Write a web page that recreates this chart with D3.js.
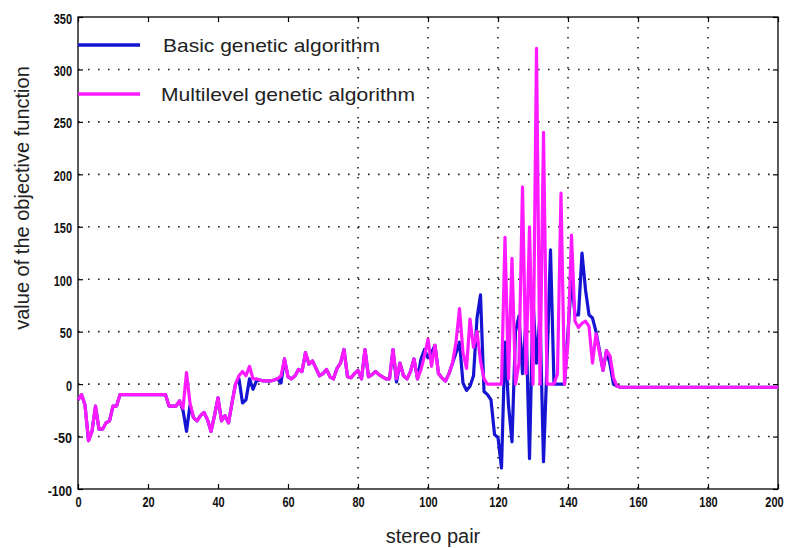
<!DOCTYPE html>
<html>
<head>
<meta charset="utf-8">
<script src="https://cdn.jsdelivr.net/npm/d3@7"></script>
<style>
  body { margin: 0; background: #fff; }
  svg { display: block; }
</style>
</head>
<body>
<div id="chart"></div>
<script>
// values, one per stereo pair 0..200
const multilevelGA = [
  -15, -10, -20, -54, -45, -21, -43, -43, -37, -35,
  -21, -21, -10, -10, -10, -10, -10, -10, -10, -10,
  -10, -10, -10, -10, -10, -10, -21, -21, -21, -16,
  -23, 11, -18, -32, -35, -30, -27, -34, -45, -30,
  -13, -35, -30, -37, -18, 0, 8, 12, 8, 17,
  5, 5, 4, 3, 3, 3, 4, 5, 8, 24,
  7, 5, 8, 14, 12, 30, 19, 22, 15, 8,
  10, 14, 7, 5, 15, 20, 33, 7, 6, 10,
  13, 5, 33, 7, 9, 12, 9, 7, 5, 5,
  33, 5, 20, 8, 5, 12, 24, 5, 14, 27,
  43, 17, 37, 10, 6, 3, 10, 20, 40, 72,
  30, 15, 62, 35, 50, 22, 5, 0, 0, 0,
  0, 0, 140, 5, 120, 0, 20, 188, 10, 150,
  0, 320, 0, 240, 0, 0, 0, 10, 182, 0,
  40, 142, 60, 54, 58, 60, 55, 20, 48, 30,
  13, 32, 27, 6, -2, -3, -3, -3, -3, -3,
  -3, -3, -3, -3, -3, -3, -3, -3, -3, -3,
  -3, -3, -3, -3, -3, -3, -3, -3, -3, -3,
  -3, -3, -3, -3, -3, -3, -3, -3, -3, -3,
  -3, -3, -3, -3, -3, -3, -3, -3, -3, -3,
  -3
];

const basicGA = [
  -15, -10, -20, -54, -45, -21, -43, -43, -37, -35,
  -21, -21, -10, -10, -10, -10, -10, -10, -10, -10,
  -10, -10, -10, -10, -10, -10, -21, -21, -21, -16,
  -25, -45, -20, -32, -35, -30, -27, -34, -45, -30,
  -13, -35, -30, -37, -18, 0, 5, -18, -15, 5,
  -5, 3, 4, 3, 3, 3, 4, 5, 1, 24,
  7, 5, 8, 14, 12, 30, 19, 22, 15, 8,
  10, 14, 7, 5, 15, 20, 33, 7, 6, 10,
  13, 5, 33, 7, 9, 12, 9, 7, 5, 5,
  33, 2, 20, 8, 5, 12, 24, 5, 24, 33,
  25, 30, 37, 10, 6, 3, 10, 20, 30, 40,
  1, -6, -2, 8, 63, 85, -7, -10, -15, -48,
  -51, -80, 40, -20, -55, 50, 65, 10, 60, -71,
  80, 20, 66, -74, 20, 128, 0, 0, 0, 0,
  50, 100, 66, 66, 125, 90, 66, 63, 50, 32,
  13, 32, 19, 0, -2, -3, -3, -3, -3, -3,
  -3, -3, -3, -3, -3, -3, -3, -3, -3, -3,
  -3, -3, -3, -3, -3, -3, -3, -3, -3, -3,
  -3, -3, -3, -3, -3, -3, -3, -3, -3, -3,
  -3, -3, -3, -3, -3, -3, -3, -3, -3, -3,
  -3
];

const xTicks = [0, 20, 40, 60, 80, 100, 120, 140, 160, 180, 200];
const yTicks = [-100, -50, 0, 50, 100, 150, 200, 250, 300, 350];
// the scan only shows vertical grid lines from 80 on
const xGrid = [80, 100, 120, 140, 160, 180];

const series = [
  { name: "Basic genetic algorithm", values: basicGA, color: "#1414d2", textW: 217 },
  { name: "Multilevel genetic algorithm", values: multilevelGA, color: "#ff1aff", textW: 254 }
];

const width = 789, height = 548;
const plotLeft = 78, plotRight = 778, plotTop = 17, plotBottom = 489;

const svg = d3.select("#chart").append("svg")
  .attr("width", width)
  .attr("height", height);

const x = d3.scaleLinear().domain([0, 200]).range([plotLeft, plotRight]);
const y = d3.scaleLinear().domain([-100, 350]).range([plotBottom, plotTop]);

const tickFont = "'Liberation Sans', Arial, sans-serif";
const labelFont = "'Liberation Sans', Arial, sans-serif";

// dotted grid
svg.selectAll(".hgrid")
  .data(yTicks.filter(d => d > -100 && d < 350))
  .enter()
  .append("line")
  .attr("class", "hgrid")
  .attr("x1", plotLeft)
  .attr("x2", plotRight)
  .attr("y1", d => y(d))
  .attr("y2", d => y(d))
  .attr("stroke", "#222")
  .attr("stroke-width", 1.6)
  .attr("stroke-dasharray", "1.6,8.4");

svg.selectAll(".vgrid")
  .data(xGrid)
  .enter()
  .append("line")
  .attr("class", "vgrid")
  .attr("x1", d => x(d))
  .attr("x2", d => x(d))
  .attr("y1", plotTop)
  .attr("y2", plotBottom)
  .attr("stroke", "#222")
  .attr("stroke-width", 1.6)
  .attr("stroke-dasharray", "1.6,8.4");

// axes with inward ticks, labels outside (plain hyphen for negatives)
const fmt = d => String(d);
const xAxis = d3.axisBottom(x).tickValues(xTicks).tickSize(-5).tickPadding(7).tickFormat(fmt);
const yAxis = d3.axisLeft(y).tickValues(yTicks).tickSize(-5).tickPadding(6).tickFormat(fmt);

const gx = svg.append("g").attr("transform", `translate(0,${plotBottom})`).call(xAxis);
const gy = svg.append("g").attr("transform", `translate(${plotLeft},0)`).call(yAxis);
svg.append("g").attr("transform", `translate(0,${plotTop})`)
  .call(d3.axisTop(x).tickValues(xTicks).tickSize(-5).tickFormat(""));
svg.append("g").attr("transform", `translate(${plotRight},0)`)
  .call(d3.axisRight(y).tickValues(yTicks).tickSize(-5).tickFormat(""));

svg.selectAll(".domain").remove();
svg.selectAll(".tick line").attr("stroke", "#000").attr("stroke-width", 1.2);

// narrow bold digits like the scan
[gx, gy].forEach(g => g.selectAll("text")
  .attr("font-family", tickFont)
  .attr("font-weight", "bold")
  .attr("font-size", 15)
  .attr("fill", "#111")
  .attr("lengthAdjust", "spacingAndGlyphs")
  .attr("textLength", d => {
    const s = String(d);
    return s.replace("-", "").length * 6.1 + (s.startsWith("-") ? 6 : 0);
  }));
gy.selectAll("text").attr("dy", "0.4em");
// the last label sits against the right edge of the scan
gx.selectAll("text").filter(d => d === 200).attr("dx", -4);

// frame
svg.append("rect")
  .attr("x", plotLeft)
  .attr("y", plotTop)
  .attr("width", plotRight - plotLeft)
  .attr("height", plotBottom - plotTop)
  .attr("fill", "none")
  .attr("stroke", "#000")
  .attr("stroke-width", 1.3);

// series lines
const line = d3.line()
  .x((d, i) => x(i))
  .y(d => y(d));

svg.selectAll(".series")
  .data(series)
  .enter()
  .append("path")
  .attr("class", "series")
  .attr("d", d => line(d.values))
  .attr("fill", "none")
  .attr("stroke", d => d.color)
  .attr("stroke-width", 3.2)
  .attr("stroke-linejoin", "round");

// legend
const legend = svg.selectAll(".legend")
  .data(series)
  .enter()
  .append("g")
  .attr("class", "legend")
  .attr("transform", (d, i) => `translate(${plotLeft},${45 + i * 49})`);

legend.append("line")
  .attr("x1", 0)
  .attr("x2", 62)
  .attr("stroke", d => d.color)
  .attr("stroke-width", 3.5);

legend.append("text")
  .attr("x", (d, i) => i === 0 ? 85 : 83)
  .attr("y", 7)
  .attr("font-family", labelFont)
  .attr("font-size", 19)
  .attr("fill", "#222")
  .attr("lengthAdjust", "spacingAndGlyphs")
  .attr("textLength", d => d.textW)
  .text(d => d.name);

// axis titles
svg.append("text")
  .attr("x", 433)
  .attr("y", 543)
  .attr("text-anchor", "middle")
  .attr("font-family", labelFont)
  .attr("font-size", 20)
  .attr("fill", "#222")
  .text("stereo pair");

svg.append("text")
  .attr("transform", "translate(29,198) rotate(-90)")
  .attr("text-anchor", "middle")
  .attr("font-family", labelFont)
  .attr("font-size", 20)
  .attr("fill", "#222")
  .text("value of the objective function");
</script>
</body>
</html>
